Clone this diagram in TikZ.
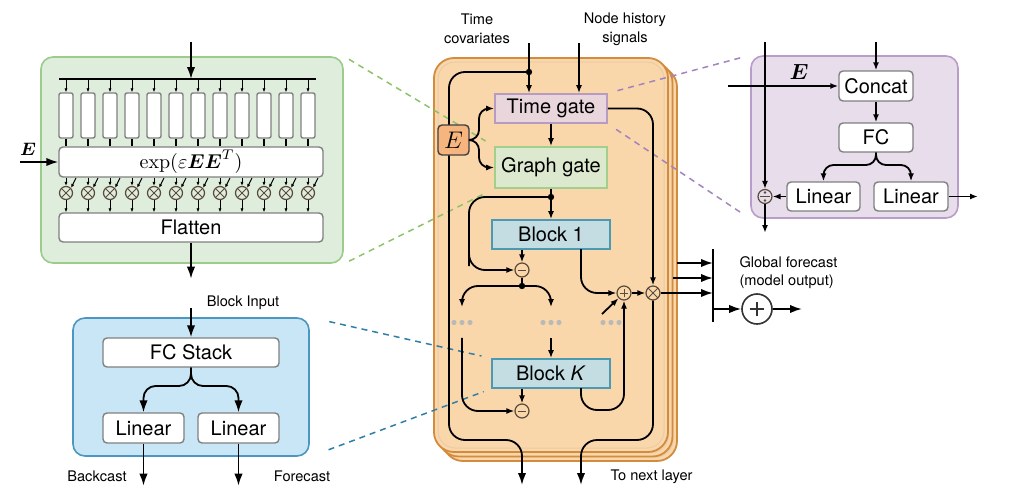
\documentclass[tikz,border=0pt]{standalone}
\usepackage{amsmath}
\usepackage[no-math]{fontspec}
\setmainfont{TeX Gyre Heros}
\usetikzlibrary{arrows.meta, calc}
\definecolor{panelor}{HTML}{F9D7AA}
\definecolor{panelbd}{HTML}{D38B3E}
\definecolor{eor}{HTML}{F6B47E}
\definecolor{tgfill}{HTML}{E9D5DC}
\definecolor{tgdraw}{HTML}{B89BC0}
\definecolor{ggfill}{HTML}{DDE9CE}
\definecolor{ggdraw}{HTML}{A3CF8D}
\definecolor{blkfill}{HTML}{C3DDE2}
\definecolor{blkdraw}{HTML}{4C99B3}
\definecolor{gpfill}{HTML}{DFEDDD}
\definecolor{gpdraw}{HTML}{9CCB8C}
\definecolor{bpfill}{HTML}{C8E6F5}
\definecolor{bpdraw}{HTML}{4C97C1}
\definecolor{ppfill}{HTML}{E7DDEB}
\definecolor{ppdraw}{HTML}{B99CC8}
\definecolor{gdash}{HTML}{8CC26A}
\definecolor{pdash}{HTML}{A583BC}
\definecolor{bdash}{HTML}{2F80A8}
\definecolor{boxgray}{HTML}{808080}
\definecolor{opgray}{HTML}{5B4B3D}

\begin{document}
\begin{tikzpicture}[x=.5pt, y=-.5pt, line width=.9pt,
    every node/.style={font=\fontsize{10}{12}\selectfont},
    lbl/.style={font=\fontsize{7.3}{9.3}\selectfont, align=center},
    arr/.style={-{Latex[length=4pt, width=3pt]}},
    bigarr/.style={-{Latex[length=6pt, width=4.2pt]}},
    tinyarr/.style={line width=.5pt, -{Latex[length=2pt, width=1.6pt]}},
    box/.style={draw=boxgray, fill=white, line width=.7pt, rounded corners=2pt, inner sep=0pt},
    gate/.style={draw=#1draw, fill=#1fill, line width=.8pt, inner sep=0pt, minimum width=56pt},
    panel/.style={draw=#1draw, fill=#1fill, line width=.8pt, rounded corners=6pt, inner sep=0pt},
    ebox/.style={draw=black!75, fill=eor, line width=.7pt, rounded corners=2pt, minimum width=15.5pt, minimum height=15pt, inner sep=0pt, font=\fontsize{13}{14}\selectfont},
    op/.style={circle, draw=opgray, fill=panelor, line width=.6pt, minimum size=7pt, inner sep=0pt},
    opplus/.style={op, path picture={\draw [line width=.5pt] (path picture bounding box.center) +(-2.2pt,0) -- +(2.2pt,0) +(0,-2.2pt) -- +(0,2.2pt);}},
    opminus/.style={op, path picture={\draw [line width=.5pt] (path picture bounding box.center) +(-2.2pt,0) -- +(2.2pt,0);}},
    optimes/.style={op, path picture={\draw [line width=.5pt] (path picture bounding box.north west) -- (path picture bounding box.south east) (path picture bounding box.north east) -- (path picture bounding box.south west);}},
    opdiv/.style={op, fill=ppfill, path picture={\draw [line width=.5pt] (path picture bounding box.center) +(-2.6pt,0) -- +(2.6pt,0); \fill [opgray] ([yshift=2pt]path picture bounding box.center) circle (.7pt); \fill [opgray] ([yshift=-2pt]path picture bounding box.center) circle (.7pt);}},
    dashln/.style={draw=#1, line width=.75pt, dash pattern=on 3pt off 2.5pt},
    dotsn/.style={minimum width=12pt, minimum height=14.5pt, inner sep=0pt}
  ]
  \useasboundingbox (0,0) rectangle (1009,504);

  \foreach \s in {4.5,2.25,0} {
    \draw [draw=panelbd, fill=panelor, line width=.9pt, rounded corners=10pt, xshift=\s pt, yshift=-\s pt] (434,58) rectangle (668,452);
    \draw [draw=panelbd!45, line width=.5pt, rounded corners=8.5pt, xshift=\s pt, yshift=-\s pt] (438,62) rectangle (664,448);
  }

  \node [panel=gp, minimum width=151pt, minimum height=103pt] (gp) at (192,160) {};
  \node [box, minimum width=132pt, minimum height=15pt] (expb) at (191,162) {$\exp(\varepsilon\boldsymbol{E}\boldsymbol{E}^{T})$};
  \node [box, minimum width=132pt, minimum height=14.5pt] (flat) at (191,227.5) {Flatten};
  \node [font=\fontsize{9.5}{10}\selectfont] (elft) at (28,149) {$\boldsymbol{E}$};
  \coordinate (gin) at (191,42);
  \coordinate (busL) at (59,79);
  \coordinate (busR) at (316,79);
  \coordinate (ein) at (20,162);
  \draw [bigarr] (gin) -- (gin |- busL);
  \draw (busL) -- (busR);
  \draw [bigarr] (ein) -- (expb);
  \draw [bigarr] (flat.south) -- ++(0,36);
  \foreach \i in {0,...,11} {
    \node [box, rounded corners=1pt, minimum width=7pt, minimum height=22.5pt] (bar\i) at ({66+22*\i},115.5) {};
    \node [optimes, fill=gpfill, minimum size=6.5pt] (ot\i) at ({66+22*\i},193) {};
    \draw [tinyarr] (bar\i.north |- busL) -- (bar\i.north);
    \draw [line width=.6pt] (bar\i) -- (bar\i |- expb.north);
    \draw [tinyarr] (ot\i |- expb.south) -- (ot\i);
    \draw [tinyarr] ($(ot\i)+(10,-15)$) -- (ot\i.north east);
    \draw [tinyarr] (ot\i) -- (ot\i |- flat.north);
  }

  \node [panel=bp, minimum width=118pt, minimum height=69pt] (bp) at (191,387) {};
  \node [box, minimum width=88pt, minimum height=14.5pt] (fcs) at (191,352.5) {FC Stack};
  \node [box, minimum width=40.5pt, minimum height=15pt] (lina) at (143.5,428) {Linear};
  \node [box, minimum width=40.5pt, minimum height=15pt] (linb) at (238.5,428) {Linear};
  \node [lbl] (binlbl) at (243,303) {Block Input};
  \node [lbl] (bclbl) at (97,476) {Backcast};
  \node [lbl] (fclbl) at (302,476) {Forecast};
  \coordinate (bin) at (191,308);
  \coordinate (bfork) at (191,386);
  \draw [bigarr] (bin) -- (fcs);
  \draw [bigarr, rounded corners=6pt] (fcs) -- (bfork) -| (lina);
  \draw [bigarr, rounded corners=6pt] (fcs) -- (bfork) -| (linb);
  \draw [bigarr] (lina.south) -- ++(0,42);
  \draw [bigarr] (linb.south) -- ++(0,42);

  \node [panel=pp, minimum width=103.5pt, minimum height=81pt] (pp) at (854.5,137) {};
  \node [font=\fontsize{10.5}{12}\selectfont] (erght) at (799,72) {$\boldsymbol{E}$};
  \node [box, minimum width=37pt, minimum height=15pt] (concat) at (876,86) {Concat};
  \node [box, minimum width=37pt, minimum height=14.5pt] (fc) at (876,137.5) {FC};
  \node [box, minimum width=36.5pt, minimum height=14.5pt] (linl) at (823.5,196.5) {Linear};
  \node [box, minimum width=37pt, minimum height=14.5pt] (linr) at (911,196.5) {Linear};
  \node [opdiv] (div) at (765,196.5) {};
  \coordinate (ein2) at (728,86);
  \coordinate (catin) at (876,42);
  \coordinate (divin) at (765,42);
  \coordinate (divout) at (765,233);
  \coordinate (rfork) at (876,165);
  \coordinate (rout) at (978,196.5);
  \draw [arr] (ein2) -- (concat);
  \draw [arr] (catin) -- (concat);
  \draw [arr] (concat) -- (fc);
  \draw [arr, rounded corners=5pt] (fc) -- (rfork) -| (linl);
  \draw [arr, rounded corners=5pt] (fc) -- (rfork) -| (linr);
  \draw [arr] (linr) -- (rout);
  \draw [arr] (linl) -- (div);
  \draw [arr] (divin) -- (div);
  \draw [arr] (div) -- (divout);

  \node [gate=tg, minimum height=14.5pt] (tgate) at (551,108.5) {Time gate};
  \node [gate=gg, minimum height=20.5pt] (ggate) at (551,167.5) {Graph gate};
  \node [gate=blk, minimum width=59pt, minimum height=14.5pt] (block1) at (551,234.5) {Block 1};
  \node [gate=blk, minimum width=59pt, minimum height=14.5pt] (blockK) at (551,373.5) {Block \textit{K}};
  \node [opminus] (minus1) at (522,270) {};
  \node [opminus] (minus2) at (522,411) {};
  \node [opplus] (plus) at (624,293) {};
  \node [optimes] (times) at (653,293) {};
  \node [dotsn] (dl) at (462,322.5) {};
  \node [dotsn] (dm) at (551,322.5) {};
  \node [dotsn] (dr) at (611,322.5) {};
  \foreach \d in {dl,dm,dr}
    \foreach \o in {-4,0,4}
      \fill [gray!55] ([xshift=\o pt]\d.center) circle (1.3pt);
  \node [lbl] (tclbl) at (477,29) {Time\\covariates};
  \node [lbl] (nhlbl) at (625,29) {Node history\\signals};
  \node [lbl, anchor=west] (nxlbl) at (603,477) {To next layer};
  \node [lbl, anchor=west, align=left] (gflbl) at (732,272.5) {Global forecast\\(model output)};

  \draw [dashln=gdash, shorten <=3pt, shorten >=5pt] (gp.north east) -- (ggate.north west);
  \draw [dashln=gdash, shorten <=3pt, shorten >=5pt] (gp.south east) -- (ggate.south west);
  \draw [dashln=pdash, shorten <=5pt, shorten >=5pt] (tgate.north east) -- (pp.north west);
  \draw [dashln=pdash, shorten <=5pt, shorten >=5pt] (tgate.south east) -- (pp.south west);
  \draw [dashln=bdash, shorten <=10pt, shorten >=5pt] (bp.north east) -- (blockK.north west);
  \draw [dashln=bdash, shorten <=10pt, shorten >=4pt] (bp.south east) -- (blockK.south west);

  \coordinate (tcin) at (529,43);
  \coordinate (nhin) at (579,43);
  \coordinate (tdot) at (529,72);
  \coordinate (railL) at (449,440);
  \coordinate (outL) at (522,485);
  \coordinate (railR) at (653,440);
  \coordinate (outR) at (581,485);
  \coordinate (efork) at (479,140);
  \coordinate (dotA) at (551,197);
  \coordinate (skip1) at (469,250);
  \coordinate (dotB) at (522,286);
  \coordinate (b1out) at (581,249);
  \coordinate (bKout) at (581,388);
  \coordinate (bKlow) at (624,410);
  \coordinate (pin) at (602,314);
  \draw [bigarr, rounded corners=8pt] (tdot) -| (railL) -| (outL);
  \fill (tdot) circle (1.6pt);
  \node [ebox] (ebox) at (453.5,140) {$E$};
  \draw [arr] (tcin) -- (tcin |- tgate.north);
  \draw [arr] (nhin) -- (nhin |- tgate.north);
  \draw [arr, rounded corners=5pt] (ebox.east) -- (efork) |- (tgate.west);
  \draw [arr, rounded corners=5pt] (ebox.east) -- (efork) |- (ggate.west);
  \draw [arr] (tgate) -- (ggate);
  \draw [arr] (ggate) -- (block1);
  \fill (dotA) circle (1.6pt);
  \draw [arr, rounded corners=8pt] (dotA) -| (skip1) |- (minus1);
  \draw [arr] (block1.south -| minus1) -- (minus1);
  \draw (minus1) -- (dotB);
  \fill (dotB) circle (1.6pt);
  \draw [arr, rounded corners=8pt] (dotB) -| (dl);
  \draw [arr, rounded corners=8pt] (dotB) -| (dm);
  \draw [arr, rounded corners=8pt] (b1out) |- (plus);
  \draw [arr] (plus) -- (times);
  \draw [arr] (pin) -- (plus);
  \draw [arr, rounded corners=8pt] (dl) |- (minus2);
  \draw [arr] (dm) -- (blockK);
  \draw [arr] (blockK.south -| minus2) -- (minus2);
  \draw [arr, rounded corners=8pt] (bKout) |- (bKlow) -- (plus);
  \draw [arr, rounded corners=8pt] (tgate) -| (times);
  \draw [bigarr, rounded corners=8pt] (times) -- (railR) -| (outR);

  \coordinate (barT) at (713,249);
  \coordinate (barB) at (713,322);
  \coordinate (l2out) at (677,263);
  \coordinate (l3out) at (673,278);
  \coordinate (gout) at (802,309);
  \node [op, fill=white, draw=black!80, line width=.8pt, minimum size=15pt, path picture={\draw [line width=.8pt] (path picture bounding box.center) +(-3.5pt,0) -- +(3.5pt,0) +(0,-3.5pt) -- +(0,3.5pt);}] (gplus) at (757,309) {};
  \draw [bigarr] (times) -- (times -| barT);
  \draw [bigarr] (l2out) -- (l2out -| barT);
  \draw [bigarr] (l3out) -- (l3out -| barT);
  \draw (barT) -- (barB);
  \draw [bigarr] (barT |- gplus) -- (gplus);
  \draw [bigarr] (gplus) -- (gout);
\end{tikzpicture}
\end{document}
